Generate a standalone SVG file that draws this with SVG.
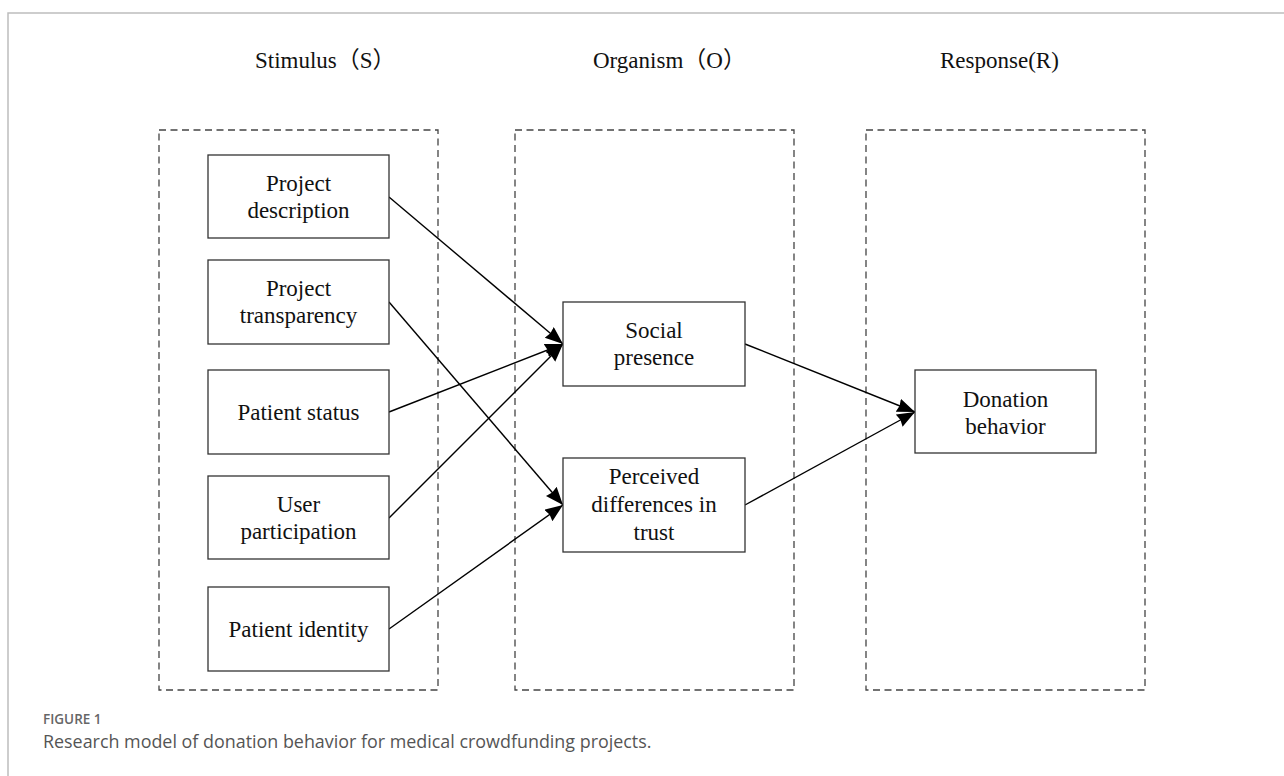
<svg xmlns="http://www.w3.org/2000/svg" width="1284" height="776" viewBox="0 0 1284 776">
<style>
.frame{stroke:#bdbdbd;stroke-width:1.5;fill:none}
.group{fill:none;stroke:#444;stroke-width:1.3;stroke-dasharray:7 4.5}
.box{fill:#fff;stroke:#333;stroke-width:1.3}
.t{font-family:"Liberation Serif","Noto Sans CJK SC",serif;font-size:23px;fill:#111;text-anchor:middle}
.title{font-family:"Liberation Serif","Noto Sans CJK SC",serif;font-size:23px;fill:#111}
.edge{stroke:#000;stroke-width:1.4;fill:none;marker-end:url(#ah)}
.figlabel{font-family:"Open Sans","Noto Sans",sans-serif;font-size:13.5px;font-weight:600;fill:#666}
.caption{font-family:"Open Sans","Noto Sans",sans-serif;font-size:17.9px;fill:#555}
</style>
<defs>
<marker id="ah" markerWidth="20" markerHeight="16" refX="18" refY="7" orient="auto" markerUnits="userSpaceOnUse">
<path d="M0,0 L18,7 L0,14 L1.5,7 z" fill="#000"/>
</marker>
</defs>
<rect width="1284" height="776" fill="#fff"/>
<path class="frame" d="M8,776 V13 H1284"/>
<g id="titles">
<text class="title" x="255" y="68">Stimulus（S）</text>
<text class="title" x="593" y="68">Organism（O）</text>
<text class="title" x="940" y="68">Response(R)</text>
</g>
<g id="groups">
<rect class="group" x="159" y="130" width="279" height="560"/>
<rect class="group" x="515" y="130" width="279" height="560"/>
<rect class="group" x="866" y="130" width="279" height="560"/>
</g>
<g id="connectors">
<line class="edge" x1="389" y1="197" x2="563" y2="344"/>
<line class="edge" x1="389" y1="302" x2="563" y2="505"/>
<line class="edge" x1="389" y1="412" x2="563" y2="344"/>
<line class="edge" x1="389" y1="518" x2="563" y2="344"/>
<line class="edge" x1="389" y1="629" x2="563" y2="505"/>
<line class="edge" x1="745" y1="344" x2="915" y2="412"/>
<line class="edge" x1="745" y1="505" x2="915" y2="412"/>
</g>
<g id="project-description">
<rect class="box" x="208" y="155" width="181" height="83"/>
<text class="t" x="298.5" y="191">Project</text>
<text class="t" x="298.5" y="218">description</text>
</g>
<g id="project-transparency">
<rect class="box" x="208" y="260" width="181" height="84"/>
<text class="t" x="298.5" y="296">Project</text>
<text class="t" x="298.5" y="323">transparency</text>
</g>
<g id="patient-status">
<rect class="box" x="208" y="370" width="181" height="84"/>
<text class="t" x="298.5" y="420">Patient status</text>
</g>
<g id="user-participation">
<rect class="box" x="208" y="476" width="181" height="83"/>
<text class="t" x="298.5" y="512">User</text>
<text class="t" x="298.5" y="539">participation</text>
</g>
<g id="patient-identity">
<rect class="box" x="208" y="587" width="181" height="84"/>
<text class="t" x="298.5" y="637">Patient identity</text>
</g>
<g id="social-presence">
<rect class="box" x="563" y="302" width="182" height="84"/>
<text class="t" x="654" y="338">Social</text>
<text class="t" x="654" y="365">presence</text>
</g>
<g id="perceived-differences">
<rect class="box" x="563" y="458" width="182" height="94"/>
<text class="t" x="654" y="484">Perceived</text>
<text class="t" x="654" y="512">differences in</text>
<text class="t" x="654" y="540">trust</text>
</g>
<g id="donation-behavior">
<rect class="box" x="915" y="370" width="181" height="83"/>
<text class="t" x="1005.5" y="407">Donation</text>
<text class="t" x="1005.5" y="434">behavior</text>
</g>
<g id="caption">
<text class="figlabel" x="43" y="724">FIGURE 1</text>
<text class="caption" x="43" y="748">Research model of donation behavior for medical crowdfunding projects.</text>
</g>
</svg>
